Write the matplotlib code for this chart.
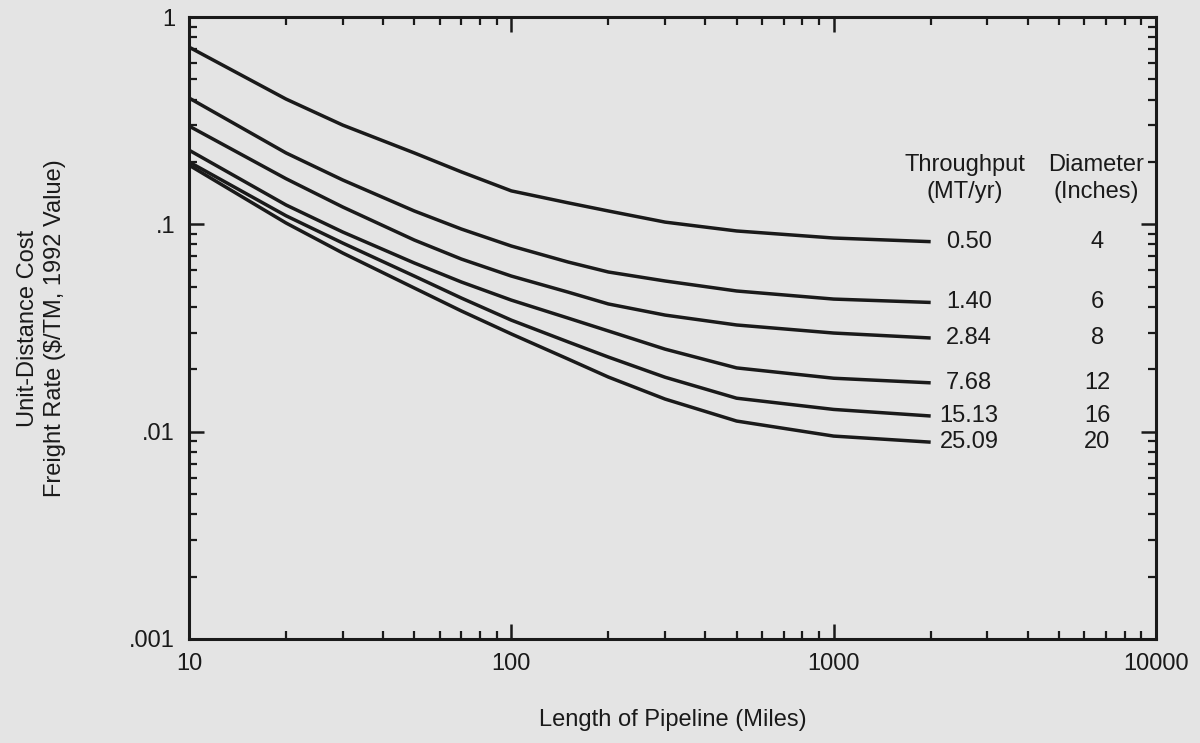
import numpy as np
import matplotlib
matplotlib.use("Agg")
import matplotlib.pyplot as plt
from matplotlib.ticker import LogLocator, FixedLocator, FixedFormatter, NullFormatter

plt.rcParams.update({
    "font.family": ["Liberation Sans", "DejaVu Sans"],
    "font.size": 17,
})

# pipeline length (miles)
length = [10, 20, 30, 50, 70, 100, 150, 200, 300, 500, 1000, 2000]
# unit-distance freight rate ($/TM) per throughput class
rate_050 = [0.716, 0.402, 0.301, 0.221, 0.179, 0.145, 0.127, 0.116, 0.1025, 0.0929, 0.0859, 0.0825]
rate_140 = [0.407, 0.221, 0.1636, 0.116, 0.0949, 0.0786, 0.0658, 0.0589, 0.0533, 0.0477, 0.0436, 0.0420]
rate_284 = [0.298, 0.166, 0.1212, 0.084, 0.068, 0.0563, 0.0471, 0.0413, 0.0365, 0.0327, 0.0299, 0.0283]
rate_768 = [0.228, 0.124, 0.0918, 0.0651, 0.0527, 0.0431, 0.0353, 0.0306, 0.0250, 0.0203, 0.0181, 0.0172]
rate_1513 = [0.200, 0.110, 0.0812, 0.0563, 0.0441, 0.0345, 0.0271, 0.0229, 0.0183, 0.0145, 0.0128, 0.0119]
rate_2509 = [0.193, 0.1015, 0.0727, 0.0493, 0.0382, 0.0296, 0.0224, 0.01834, 0.01436, 0.01125, 0.00952, 0.0089]

series = [rate_050, rate_140, rate_284, rate_768, rate_1513, rate_2509]
throughput = ["0.50", "1.40", "2.84", "7.68", "15.13", "25.09"]
diameter = ["4", "6", "8", "12", "16", "20"]

BG = "#e4e4e4"
INK = "#1a1a1a"

fig = plt.figure(figsize=(12, 7.43), dpi=100, facecolor=BG)
ax = fig.add_axes([0.1575, 0.14, 0.8058, 0.8371], facecolor=BG)

for ys in series:
    ax.plot(length, ys, color=INK, lw=2.5, solid_capstyle="butt", solid_joinstyle="round")

ax.set_xscale("log")
ax.set_yscale("log")
ax.set_xlim(10, 10000)
ax.set_ylim(0.001, 1)

ax.xaxis.set_major_locator(FixedLocator([10, 100, 1000, 10000]))
ax.xaxis.set_major_formatter(FixedFormatter(["10", "100", "1000", "10000"]))
ax.yaxis.set_major_locator(FixedLocator([0.001, 0.01, 0.1, 1]))
ax.yaxis.set_major_formatter(FixedFormatter([".001", ".01", ".1", "1"]))
for a in (ax.xaxis, ax.yaxis):
    a.set_minor_locator(LogLocator(base=10, subs=np.arange(2, 10)))
    a.set_minor_formatter(NullFormatter())

ax.tick_params(which="major", direction="in", length=11, width=1.8, top=True, right=True,
               colors=INK, labelsize=17, pad=10)
ax.tick_params(which="minor", direction="in", length=6, width=1.6, top=True, right=True, colors=INK)
for s in ax.spines.values():
    s.set_linewidth(2.2)
    s.set_color(INK)

ax.set_xlabel("Length of Pipeline (Miles)", color=INK, va="center")
ax.xaxis.set_label_coords(0.5, -0.130)
ax.set_ylabel("Unit-Distance Cost\nFreight Rate ($/TM, 1992 Value)", color=INK, va="center",
              linespacing=1.3)
ax.yaxis.set_label_coords(-0.153, 0.5)

# column headers and curve labels
ax.text(2560, 0.167, "Throughput\n(MT/yr)", ha="center", va="center", color=INK, linespacing=1.3)
ax.text(6515, 0.167, "Diameter\n(Inches)", ha="center", va="center", color=INK, linespacing=1.3)
for ys, tp, dm in zip(series, throughput, diameter):
    ax.text(2630, ys[-1], tp, ha="center", va="center", color=INK)
    ax.text(6580, ys[-1], dm, ha="center", va="center", color=INK)

fig.savefig("out.png", dpi=100, facecolor=BG)
